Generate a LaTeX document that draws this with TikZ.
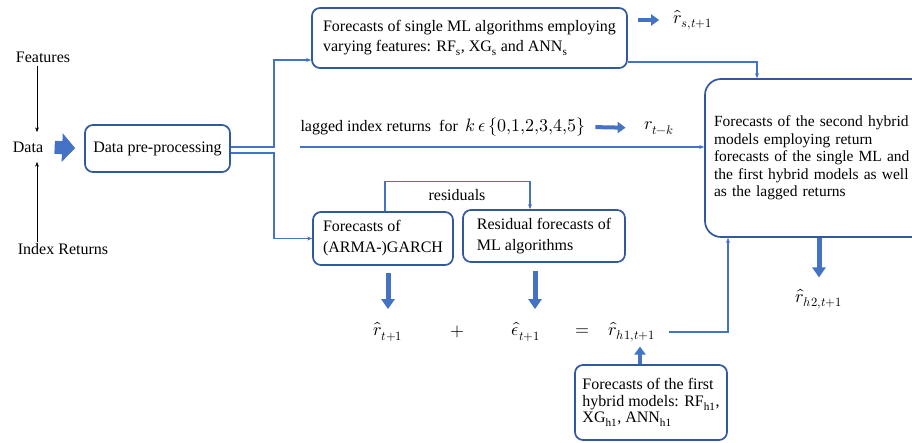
\documentclass[tikz,border=0pt]{standalone}
\usepackage{fontspec}
\usepackage{unicode-math}
\setmainfont{Liberation Serif}
\setmathfont{latinmodern-math.otf}
\usetikzlibrary{arrows.meta}

\definecolor{boxblue}{RGB}{50,88,158}
\definecolor{lineblue}{RGB}{68,114,196}

\begin{document}
\begin{tikzpicture}[
    x=1pt, y=-1pt,
    every node/.style={font=\fontsize{16}{18}\selectfont},
    mathlbl/.style={font=\fontsize{18}{20}\selectfont},
    box/.style={draw=boxblue, line width=1.7pt, rounded corners=8pt, align=left},
    link/.style={draw=lineblue, line width=1.3pt, -{Stealth[length=5pt,width=4pt]}},
    fatarrow/.style={draw=lineblue, line width=5pt, -{Triangle[length=10pt,width=13pt]}},
    smallfat/.style={draw=lineblue, line width=4pt, -{Triangle[length=8pt,width=11pt]}},
    dataarrow/.style={draw=lineblue, line width=13pt, -{Triangle[length=13pt,width=28pt]}},
    >=Stealth
]
\useasboundingbox (0,0) rectangle (912,442);

% --- Inputs ---
\node (feat) at (43,57) {Features};
\node (data) at (28,147) {Data};
\node (idx) at (63,249) {Index Returns};
\draw[->, thin] ([xshift=-6pt]feat.south) -- ([xshift=9pt,yshift=6pt]data.north);
\draw[->, thin] ([xshift=-26pt,yshift=-2pt]idx.north) -- ([xshift=9pt,yshift=-6pt]data.south);

% --- Pre-processing ---
\node[box, minimum width=145pt, minimum height=47pt, align=center] (prep) at (157.5,148.5) {Data pre-processing};
\draw[dataarrow, shorten <=8pt, shorten >=9pt] (data.east) -- (prep.west);

% --- Single ML forecasts ---
\node[box, minimum width=315pt, minimum height=60pt,
      font=\fontsize{16}{20}\selectfont] (top) at (469.5,38)
    {Forecasts of single ML algorithms employing\\varying features: RF\textsubscript{s}, XG\textsubscript{s} and ANN\textsubscript{s}};
\node[mathlbl] (rs) at (693,20) {$\hat{r}_{s,t+1}$};
\draw[smallfat, shorten <=10pt, shorten >=11pt] (top.east |- rs.west) -- (rs.west);

% --- Lagged returns ---
\node[anchor=west] (lag) at (297,127) {lagged index returns\ \ for\ \ {\fontsize{18}{20}\selectfont$k\,\epsilon\,\{0{,}1{,}2{,}3{,}4{,}5\}$}};
\node[mathlbl] (rtk) at (659,128) {$r_{t-k}$};
\draw[smallfat, shorten <=6pt, shorten >=15pt] (lag.east) -- (rtk.west);
\coordinate (lagstart) at (300,147);

% --- Hybrid 1 boxes ---
\node[box, minimum width=140pt, minimum height=53pt,
      font=\fontsize{16}{21}\selectfont] (garch) at (383,238.5)
    {Forecasts of\\(ARMA-)GARCH};
\node[box, minimum width=162pt, minimum height=52pt,
      font=\fontsize{16}{21}\selectfont] (resid) at (544,236)
    {Residual forecasts of\\ML algorithms};
\node (reslbl) at (457,195) {residuals};
\draw[link] ([xshift=2pt]garch.north) -- ++(0,-30) -| ([xshift=-14pt]resid.north);

% --- Hybrid 1 equation ---
\node[mathlbl] (rhat) at (388,332) {$\hat{r}_{t+1}$};
\node[mathlbl] (plus) at (457,332) {$+$};
\node[mathlbl] (eps) at (526,332) {$\hat{\epsilon}_{t+1}$};
\node[mathlbl] (eq) at (582,332) {$=$};
\node[mathlbl] (rh1) at (632,332) {$\hat{r}_{h1,t+1}$};
\draw[fatarrow, shorten <=7pt, shorten >=10pt] (garch.south -| rhat.north) -- (rhat.north);
\draw[fatarrow, shorten <=8pt, shorten >=10pt] (resid.south -| 535,0) -- (rhat.north -| 535,0);

\node[box, minimum width=152pt, minimum height=75pt,
      font=\fontsize{16}{16.5}\selectfont] (hyb1) at (651,402.5)
    {Forecasts of the first\\hybrid models: RF\textsubscript{h1},\\XG\textsubscript{h1}, ANN\textsubscript{h1}};
\draw[smallfat, shorten >=1pt] (hyb1.north -| 640,0) -- (rh1.south -| 640,0);

% --- Hybrid 2 box ---
\node[box, text width=212pt, inner xsep=9pt, minimum height=158pt, rounded corners=16pt,
      font=\fontsize{15.5}{17.5}\selectfont] (big) at (820,158)
    {Forecasts of the second hybrid\\models employing return\\forecasts of the single ML and\\the first hybrid models as well\\as the lagged returns};
\node[mathlbl] (rh2) at (819,299) {$\hat{r}_{h2,t+1}$};
\draw[fatarrow, shorten >=8pt] (big.south -| rh2.north) -- (rh2.north);

% --- Connectors ---
\draw[link] ([yshift=1.5pt]prep.east) -- ++(43,0) |- ([yshift=-22pt]top.west);
\draw[link] ([yshift=-4.5pt]prep.east) -- ++(43,0) |- (garch.west);
\draw[link] (lagstart) -- (lagstart -| big.west);
\draw[link] ([yshift=-24pt]top.east) -| ([xshift=-63pt]big.north);
\draw[link] ([xshift=10pt]rh1.east) -| ([xshift=-92pt]big.south);

\end{tikzpicture}
\end{document}
